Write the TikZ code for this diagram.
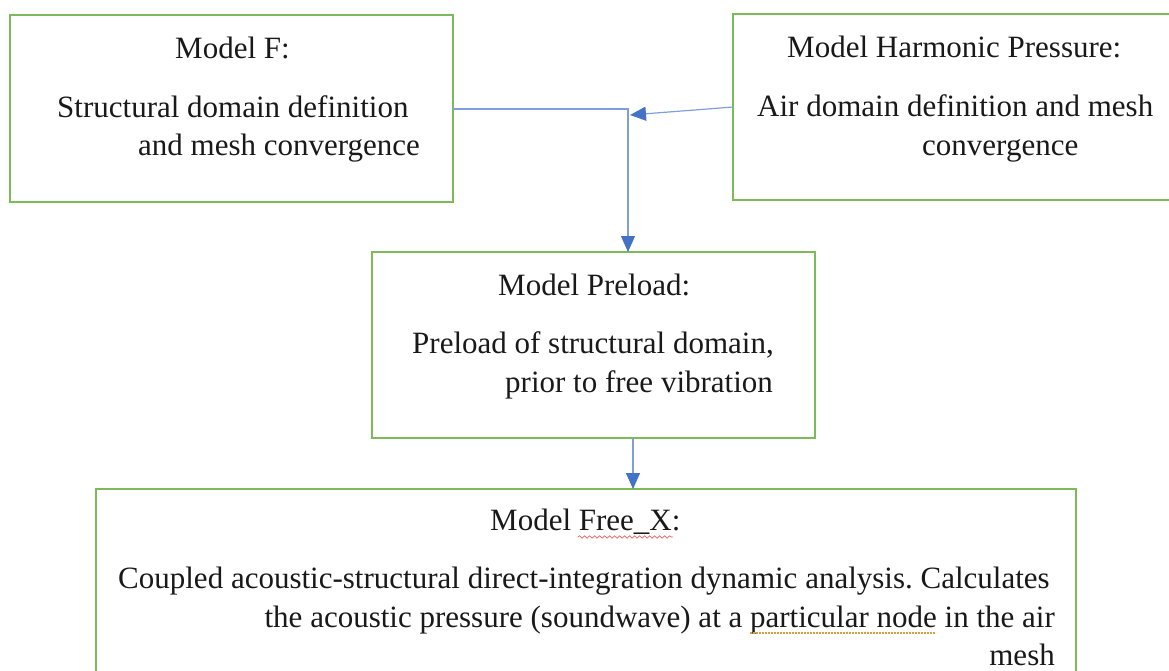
\documentclass[tikz,border=0pt]{standalone}
\usepackage{fontspec}
\setmainfont{Liberation Serif}
\frenchspacing
\usetikzlibrary{arrows.meta,decorations.pathmorphing}
\definecolor{boxgreen}{HTML}{7DBB5A}
\definecolor{linkblue}{HTML}{7F9FD8}
\definecolor{tipblue}{HTML}{4472C4}
\definecolor{spellred}{HTML}{F06060}
\definecolor{grammarorange}{HTML}{D9A040}
\begin{document}
\begin{tikzpicture}[x=1pt,y=-1pt,
  stagebox/.style={draw=boxgreen,line width=1.6pt,fill=none},
  txt/.style={inner sep=0pt,font=\fontsize{31}{40}\selectfont,text=black!90},
  link/.style={draw=linkblue,line width=1.2pt,
    -{Triangle[length=16pt,width=14pt,color=tipblue]}},
]
\useasboundingbox (0,0) rectangle (1169,670);

% stage boxes
\draw[stagebox] (10,15) rectangle (453,202);
\draw[stagebox] (733,14) rectangle (1185,200);
\draw[stagebox] (372,252) rectangle (815,438);
\draw[stagebox] (96,680) -- (96,489) -- (1076,489) -- (1076,680);

% connector anchors
\coordinate (fout) at (453,109);
\coordinate (bend) at (628,109);
\coordinate (pin) at (628,252);
\coordinate (hout) at (733,107);
\coordinate (join) at (630,115);
\coordinate (pout) at (633,438);
\coordinate (xin) at (633,489);

% Model F
\node[txt,anchor=base west] (f1) at (175,58) {Model F:};
\node[txt,anchor=base west] (f2) at (57,117) {Structural domain definition};
\node[txt,anchor=base west] (f3) at (138,155) {and mesh convergence};

% Model Harmonic Pressure
\node[txt,anchor=base west] (h1) at (787,57) {Model Harmonic Pressure:};
\node[txt,anchor=base west] (h2) at (757,116) {Air domain definition and mesh};
\node[txt,anchor=base west] (h3) at (922,155) {convergence};

% Model Preload
\node[txt,anchor=base west] (p1) at (498,295) {Model Preload:};
\node[txt,anchor=base west] (p2) at (412,353) {Preload of structural domain,};
\node[txt,anchor=base west] (p3) at (505,392) {prior to free vibration};

% Model Free_X
\node[txt,anchor=base west] (x1) at (490,530) {Model Free\_X:};
\node[txt,anchor=base west] (x2) at (118,588) {Coupled acoustic-structural direct-integration dynamic analysis. Calculates};
\node[txt,anchor=base east] (x3) at (1055,627) {the acoustic pressure (soundwave) at a particular node in the air};
\node[txt,anchor=base east] (x4) at (1055,665) {mesh};

% proofing marks
\draw[spellred,line width=0.7pt,decorate,decoration={snake,amplitude=1.2pt,segment length=5pt}]
  (578,537) -- (673,537);
\draw[grammarorange,line width=1.2pt,dash pattern=on 1.5pt off 1.5pt] (750,633) -- (936,633);

% connectors
\draw[link] (fout) -- (bend) -- (pin);
\draw[link] (hout) -- (join);
\draw[link] (pout) -- (xin);
\end{tikzpicture}
\end{document}
